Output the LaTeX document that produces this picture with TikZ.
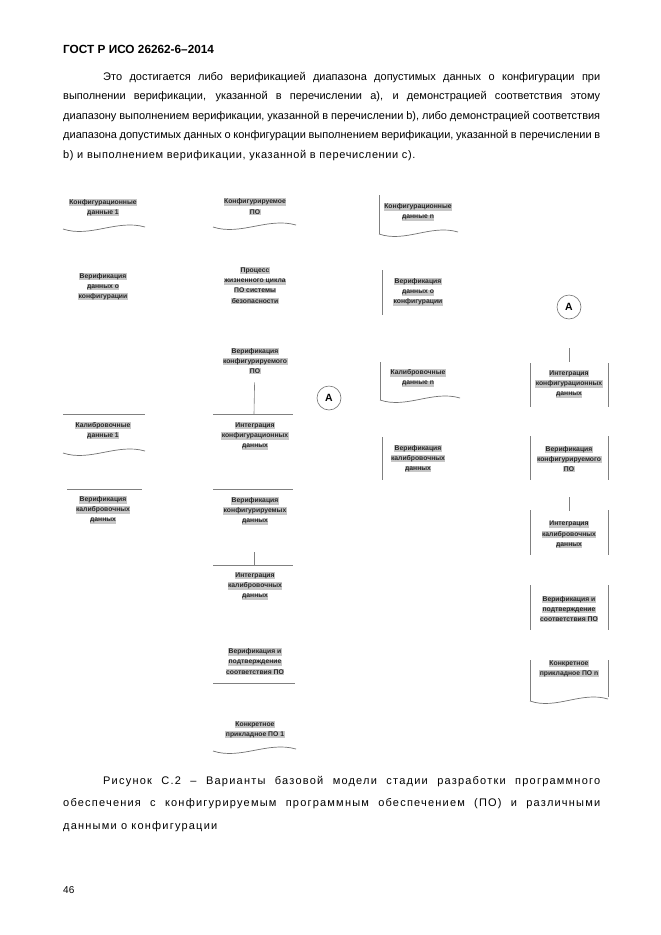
\documentclass[tikz,border=0pt]{standalone}
\usepackage{fontspec}
\setmainfont{Liberation Sans}
\newcommand\hlt[1]{{\setlength{\fboxsep}{0.5pt}\colorbox{black!22}{#1}}}
\newcommand\wavyline[3]{\draw[wave] (#1,#3) .. controls ({#1+0.33*(#2-#1)},{#3+9}) and ({#1+0.66*(#2-#1)},{#3-10}) .. (#2,{#3-2});}
\begin{document}
\begin{tikzpicture}[x=1pt,y=-1pt,
  lbl/.style={align=center, font=\fontsize{6.8}{10.2}\selectfont\bfseries, text=black!85, inner sep=0pt},
  frag/.style={draw=black!50, line width=0.6pt},
  wave/.style={draw=black!55, line width=0.7pt},
  circ/.style={circle, draw=black!55, line width=0.6pt, minimum size=24pt, inner sep=0pt, font=\fontsize{10.5}{10.5}\selectfont\bfseries}]
\useasboundingbox[fill=white] (0,0) rectangle (661,935);

% header and text
\node[anchor=base west, inner sep=0, font=\fontsize{11.8}{14}\selectfont\bfseries] (head) at (63,53) {ГОСТ Р ИСО 26262-6–2014};
\node[anchor=base west, inner sep=0] (body) at (63,80) {\parbox[t]{537pt}{\fontsize{11}{19.5}\selectfont\hspace*{40pt}Это достигается либо верификацией диапазона допустимых данных о конфигурации при\linebreak выполнении верификации, указанной в перечислении a), и демонстрацией соответствия этому\linebreak диапазону выполнением верификации, указанной в перечислении b), либо демонстрацией соответствия\linebreak диапазона допустимых данных о конфигурации выполнением верификации, указанной в перечислении в\linebreak {\addfontfeatures{LetterSpace=5.5}b) и выполнением верификации, указанной в перечислении с).}}};

% column 1
\node[lbl] (c1) at (103,207.5) {\hlt{Конфигурационные}\\\hlt{данные 1}};
\wavyline{63}{145}{229}
\node[lbl] (vd1) at (103,286.5) {\hlt{Верификация}\\\hlt{данных о}\\\hlt{конфигурации}};
\node[lbl] (k1) at (103,430.5) {\hlt{Калибровочные}\\\hlt{данные 1}};
\draw[frag] (63,414) -- (145,414);
\wavyline{63}{145}{453}
\node[lbl] (vk1) at (103,510) {\hlt{Верификация}\\\hlt{калибровочных}\\\hlt{данных}};
\draw[frag] (67,489) -- (142,489);

% column 2
\node[lbl] (cp) at (255,206.5) {\hlt{Конфигурируемое}\\\hlt{ПО}};
\wavyline{213}{296}{227}
\node[lbl] (lc) at (255,285.5) {\hlt{Процесс}\\\hlt{жизненного цикла}\\\hlt{ПО системы}\\\hlt{безопасности}};
\node[lbl] (v2) at (255,361) {\hlt{Верификация}\\\hlt{конфигурируемого}\\\hlt{ПО}};
\coordinate (t2) at (254,414);
\draw[frag, shorten <=8pt] (v2) -- (t2);
\draw[frag] (213,414) -- (293,414);
\node[lbl] (i2) at (255,436) {\hlt{Интеграция}\\\hlt{конфигурационных}\\\hlt{данных}};
\draw[frag] (213,489) -- (293,489);
\node[lbl] (vd2) at (255,511) {\hlt{Верификация}\\\hlt{конфигурируемых}\\\hlt{данных}};
\coordinate (s3) at (254,552);
\coordinate (t3) at (254,565);
\draw[frag] (s3) -- (t3);
\draw[frag] (213,565) -- (293,565);
\node[lbl] (ik2) at (255,586) {\hlt{Интеграция}\\\hlt{калибровочных}\\\hlt{данных}};
\node[lbl] (vp2) at (255,661.5) {\hlt{Верификация и}\\\hlt{подтверждение}\\\hlt{соответствия ПО}};
\draw[frag] (213,683) -- (295,683);
\node[lbl] (p1) at (255,729.5) {\hlt{Конкретное}\\\hlt{прикладное ПО 1}};
\wavyline{213}{296}{751}

\node[circ] (A1) at (329,398) {A};

% column 3
\node[lbl] (cn) at (418,212) {\hlt{Конфигурационные}\\\hlt{данные n}};
\draw[frag] (379,195) -- (379,234);
\wavyline{379}{458}{234}
\node[lbl] (vdn) at (418,292) {\hlt{Верификация}\\\hlt{данных о}\\\hlt{конфигурации}};
\draw[frag] (382,270) -- (382,315);
\node[lbl] (kn) at (418,378) {\hlt{Калибровочные}\\\hlt{данные n}};
\draw[frag] (380,362) -- (380,400);
\wavyline{380}{460}{400}
\node[lbl] (vkn) at (418,458.5) {\hlt{Верификация}\\\hlt{калибровочных}\\\hlt{данных}};
\draw[frag] (382,437) -- (382,480);

% column 4
\node[circ] (A2) at (569,307) {A};
\coordinate (s4) at (569,348);
\coordinate (t4) at (569,362);
\draw[frag] (s4) -- (t4);
\node[lbl] (i4) at (569,384) {\hlt{Интеграция}\\\hlt{конфигурационных}\\\hlt{данных}};
\draw[frag] (530,363) -- (530,407) (608,363) -- (608,407);
\node[lbl] (v4) at (569,459) {\hlt{Верификация}\\\hlt{конфигурируемого}\\\hlt{ПО}};
\draw[frag] (530,436) -- (530,480) (608,436) -- (608,480);
\coordinate (s5) at (569,497);
\coordinate (t5) at (569,511);
\draw[frag] (s5) -- (t5);
\node[lbl] (ik4) at (569,534.5) {\hlt{Интеграция}\\\hlt{калибровочных}\\\hlt{данных}};
\draw[frag] (530,510) -- (530,555) (608,510) -- (608,555);
\node[lbl] (vp4) at (569,609) {\hlt{Верификация и}\\\hlt{подтверждение}\\\hlt{соответствия ПО}};
\draw[frag] (530,585) -- (530,630) (608,585) -- (608,630);
\node[lbl] (pn) at (569,668.5) {\hlt{Конкретное}\\\hlt{прикладное ПО n}};
\draw[frag] (530,660) -- (530,701) (608,660) -- (608,697);
\wavyline{530}{608}{701}

% caption
\node[anchor=base west, inner sep=0] (cap) at (63,784) {\parbox[t]{537pt}{\fontsize{11}{22.5}\selectfont\addfontfeatures{LetterSpace=11}\hspace*{40pt}Рисунок С.2 – Варианты базовой модели стадии разработки программного\linebreak обеспечения с конфигурируемым программным обеспечением (ПО) и различными\linebreak данными о конфигурации}};
\node[anchor=base west, inner sep=0, font=\fontsize{10}{12}\selectfont] (pg) at (63,893) {46};
\end{tikzpicture}
\end{document}
